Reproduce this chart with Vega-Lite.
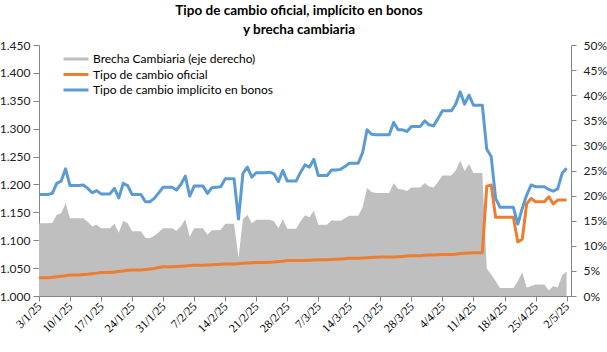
{
  "$schema": "https://vega.github.io/schema/vega-lite/v6.json",
  "width": 532,
  "height": 251,
  "autosize": {"type": "none"},
  "padding": {"left": 39, "top": 45, "right": 36, "bottom": 56},
  "background": "white",
  "title": {
    "text": ["Tipo de cambio oficial, implícito en bonos", "y brecha cambiaria"],
    "font": "Lato", "fontSize": 13.5, "fontWeight": "bold", "color": "#000000",
    "anchor": "middle", "frame": "group", "dx": -6, "offset": 3, "lineHeight": 19
  },
  "data": {"values": [
    {"d":"2025-01-03","o":1032.5,"b":1182,"g":14.5},
    {"d":"2025-01-04","o":1032.5,"b":1182,"g":14.5},
    {"d":"2025-01-05","o":1032.5,"b":1182,"g":14.5},
    {"d":"2025-01-06","o":1033.5,"b":1184,"g":14.6},
    {"d":"2025-01-07","o":1034.5,"b":1202,"g":16.2},
    {"d":"2025-01-08","o":1035.5,"b":1206,"g":16.5},
    {"d":"2025-01-09","o":1036.5,"b":1228,"g":18.5},
    {"d":"2025-01-10","o":1037.5,"b":1198,"g":15.5},
    {"d":"2025-01-11","o":1037.5,"b":1198,"g":15.5},
    {"d":"2025-01-12","o":1037.5,"b":1198,"g":15.5},
    {"d":"2025-01-13","o":1038.5,"b":1199,"g":15.5},
    {"d":"2025-01-14","o":1039,"b":1193,"g":14.8},
    {"d":"2025-01-15","o":1040,"b":1185,"g":13.9},
    {"d":"2025-01-16","o":1041,"b":1189,"g":14.2},
    {"d":"2025-01-17","o":1042,"b":1183,"g":13.5},
    {"d":"2025-01-18","o":1042,"b":1183,"g":13.5},
    {"d":"2025-01-19","o":1042,"b":1183,"g":13.5},
    {"d":"2025-01-20","o":1043,"b":1193,"g":14.4},
    {"d":"2025-01-21","o":1044,"b":1176,"g":12.6},
    {"d":"2025-01-22","o":1045,"b":1202,"g":15.0},
    {"d":"2025-01-23","o":1046,"b":1198,"g":14.5},
    {"d":"2025-01-24","o":1046.5,"b":1182,"g":12.9},
    {"d":"2025-01-25","o":1046.5,"b":1182,"g":12.9},
    {"d":"2025-01-26","o":1046.5,"b":1182,"g":12.9},
    {"d":"2025-01-27","o":1047.5,"b":1169,"g":11.6},
    {"d":"2025-01-28","o":1048.5,"b":1169,"g":11.5},
    {"d":"2025-01-29","o":1049.5,"b":1175,"g":12.0},
    {"d":"2025-01-30","o":1051,"b":1185,"g":12.7},
    {"d":"2025-01-31","o":1052.5,"b":1195,"g":13.5},
    {"d":"2025-02-01","o":1052.5,"b":1195,"g":13.5},
    {"d":"2025-02-02","o":1052.5,"b":1195,"g":13.5},
    {"d":"2025-02-03","o":1053,"b":1190,"g":13.0},
    {"d":"2025-02-04","o":1053.5,"b":1200,"g":13.9},
    {"d":"2025-02-05","o":1054,"b":1215,"g":15.3},
    {"d":"2025-02-06","o":1054.5,"b":1179,"g":11.8},
    {"d":"2025-02-07","o":1055,"b":1197,"g":13.5},
    {"d":"2025-02-08","o":1055,"b":1197,"g":13.5},
    {"d":"2025-02-09","o":1055,"b":1197,"g":13.5},
    {"d":"2025-02-10","o":1055.5,"b":1184,"g":12.2},
    {"d":"2025-02-11","o":1056,"b":1194,"g":13.1},
    {"d":"2025-02-12","o":1056.5,"b":1195,"g":13.1},
    {"d":"2025-02-13","o":1057,"b":1196,"g":13.2},
    {"d":"2025-02-14","o":1057.5,"b":1210,"g":14.4},
    {"d":"2025-02-15","o":1057.5,"b":1210,"g":14.4},
    {"d":"2025-02-16","o":1057.5,"b":1210,"g":14.4},
    {"d":"2025-02-17","o":1058,"b":1138,"g":7.6},
    {"d":"2025-02-18","o":1058.5,"b":1220,"g":15.3},
    {"d":"2025-02-19","o":1059,"b":1231,"g":16.2},
    {"d":"2025-02-20","o":1059.5,"b":1213,"g":14.5},
    {"d":"2025-02-21","o":1060,"b":1221,"g":15.2},
    {"d":"2025-02-22","o":1060,"b":1221,"g":15.2},
    {"d":"2025-02-23","o":1060,"b":1221,"g":15.2},
    {"d":"2025-02-24","o":1060.5,"b":1222,"g":15.2},
    {"d":"2025-02-25","o":1061,"b":1219,"g":14.9},
    {"d":"2025-02-26","o":1062,"b":1205,"g":13.5},
    {"d":"2025-02-27","o":1062.5,"b":1225,"g":15.3},
    {"d":"2025-02-28","o":1063.5,"b":1206,"g":13.4},
    {"d":"2025-03-01","o":1063.5,"b":1206,"g":13.4},
    {"d":"2025-03-02","o":1063.5,"b":1206,"g":13.4},
    {"d":"2025-03-03","o":1063.5,"b":1222,"g":14.9},
    {"d":"2025-03-04","o":1063.5,"b":1235,"g":16.1},
    {"d":"2025-03-05","o":1064,"b":1231,"g":15.7},
    {"d":"2025-03-06","o":1064.5,"b":1245,"g":17.0},
    {"d":"2025-03-07","o":1065,"b":1216,"g":14.2},
    {"d":"2025-03-08","o":1065,"b":1216,"g":14.2},
    {"d":"2025-03-09","o":1065,"b":1216,"g":14.2},
    {"d":"2025-03-10","o":1065.5,"b":1226,"g":15.1},
    {"d":"2025-03-11","o":1066,"b":1226,"g":15.0},
    {"d":"2025-03-12","o":1066.5,"b":1227,"g":15.0},
    {"d":"2025-03-13","o":1067,"b":1232,"g":15.5},
    {"d":"2025-03-14","o":1067.5,"b":1238,"g":16.0},
    {"d":"2025-03-15","o":1067.5,"b":1238,"g":16.0},
    {"d":"2025-03-16","o":1067.5,"b":1238,"g":16.0},
    {"d":"2025-03-17","o":1068,"b":1257,"g":17.7},
    {"d":"2025-03-18","o":1068.5,"b":1298,"g":21.5},
    {"d":"2025-03-19","o":1069,"b":1290,"g":20.7},
    {"d":"2025-03-20","o":1069.5,"b":1289,"g":20.5},
    {"d":"2025-03-21","o":1070,"b":1289,"g":20.5},
    {"d":"2025-03-22","o":1070,"b":1289,"g":20.5},
    {"d":"2025-03-23","o":1070,"b":1289,"g":20.5},
    {"d":"2025-03-24","o":1070,"b":1311,"g":22.5},
    {"d":"2025-03-25","o":1070.5,"b":1298,"g":21.3},
    {"d":"2025-03-26","o":1071,"b":1298,"g":21.2},
    {"d":"2025-03-27","o":1071.5,"b":1295,"g":20.9},
    {"d":"2025-03-28","o":1072,"b":1304,"g":21.6},
    {"d":"2025-03-29","o":1072,"b":1304,"g":21.6},
    {"d":"2025-03-30","o":1072,"b":1304,"g":21.6},
    {"d":"2025-03-31","o":1073,"b":1314,"g":22.5},
    {"d":"2025-04-01","o":1073.5,"b":1307,"g":21.8},
    {"d":"2025-04-02","o":1073.5,"b":1305,"g":21.6},
    {"d":"2025-04-03","o":1074,"b":1318,"g":22.7},
    {"d":"2025-04-04","o":1074.5,"b":1332,"g":24.0},
    {"d":"2025-04-05","o":1074.5,"b":1332,"g":24.0},
    {"d":"2025-04-06","o":1074.5,"b":1332,"g":24.0},
    {"d":"2025-04-07","o":1075,"b":1344,"g":25.0},
    {"d":"2025-04-08","o":1076,"b":1366,"g":27.0},
    {"d":"2025-04-09","o":1076.5,"b":1344,"g":24.9},
    {"d":"2025-04-10","o":1077,"b":1360,"g":26.3},
    {"d":"2025-04-11","o":1077.5,"b":1342,"g":24.5},
    {"d":"2025-04-12","o":1077.5,"b":1342,"g":24.5},
    {"d":"2025-04-13","o":1077.5,"b":1342,"g":24.5},
    {"d":"2025-04-14","o":1197,"b":1263,"g":5.5},
    {"d":"2025-04-15","o":1199,"b":1250,"g":4.3},
    {"d":"2025-04-16","o":1141,"b":1175,"g":3.0},
    {"d":"2025-04-17","o":1141,"b":1159,"g":1.6},
    {"d":"2025-04-18","o":1141,"b":1159,"g":1.6},
    {"d":"2025-04-19","o":1141,"b":1159,"g":1.6},
    {"d":"2025-04-20","o":1141,"b":1159,"g":1.6},
    {"d":"2025-04-21","o":1097,"b":1129,"g":2.9},
    {"d":"2025-04-22","o":1102,"b":1157,"g":4.8},
    {"d":"2025-04-23","o":1165,"b":1181,"g":1.7},
    {"d":"2025-04-24","o":1175,"b":1199,"g":2.0},
    {"d":"2025-04-25","o":1169,"b":1196,"g":2.3},
    {"d":"2025-04-26","o":1169,"b":1196,"g":2.3},
    {"d":"2025-04-27","o":1169,"b":1196,"g":2.3},
    {"d":"2025-04-28","o":1178,"b":1191,"g":1.1},
    {"d":"2025-04-29","o":1165,"b":1188,"g":2.0},
    {"d":"2025-04-30","o":1172,"b":1192,"g":1.7},
    {"d":"2025-05-01","o":1172,"b":1220,"g":4.1},
    {"d":"2025-05-02","o":1172,"b":1229,"g":4.9}
  ]},
  "encoding": {
    "x": {
      "field": "d", "type": "temporal",
      "scale": {"type": "utc", "domain": [{"year": 2025, "month": 1, "date": 3, "utc": true}, {"year": 2025, "month": 5, "date": 3, "utc": true}]},
      "axis": {
        "values": [
          {"year": 2025, "month": 1, "date": 3, "utc": true},
          {"year": 2025, "month": 1, "date": 10, "utc": true},
          {"year": 2025, "month": 1, "date": 17, "utc": true},
          {"year": 2025, "month": 1, "date": 24, "utc": true},
          {"year": 2025, "month": 1, "date": 31, "utc": true},
          {"year": 2025, "month": 2, "date": 7, "utc": true},
          {"year": 2025, "month": 2, "date": 14, "utc": true},
          {"year": 2025, "month": 2, "date": 21, "utc": true},
          {"year": 2025, "month": 2, "date": 28, "utc": true},
          {"year": 2025, "month": 3, "date": 7, "utc": true},
          {"year": 2025, "month": 3, "date": 14, "utc": true},
          {"year": 2025, "month": 3, "date": 21, "utc": true},
          {"year": 2025, "month": 3, "date": 28, "utc": true},
          {"year": 2025, "month": 4, "date": 4, "utc": true},
          {"year": 2025, "month": 4, "date": 11, "utc": true},
          {"year": 2025, "month": 4, "date": 18, "utc": true},
          {"year": 2025, "month": 4, "date": 25, "utc": true},
          {"year": 2025, "month": 5, "date": 2, "utc": true}
        ],
        "labelExpr": "utcFormat(datum.value, '%-d/%-m/%y')",
        "labelAngle": -45, "labelAlign": "right", "labelBaseline": "middle",
        "labelFont": "Liberation Serif", "labelFontSize": 12, "labelColor": "#000000",
        "labelPadding": 3, "labelOverlap": false, "labelBound": false, "labelFlush": false,
        "tickSize": 5, "grid": false, "title": null
      }
    }
  },
  "layer": [
    {
      "mark": {"type": "area", "interpolate": "linear"},
      "encoding": {
        "y": {
          "field": "g", "type": "quantitative",
          "scale": {"domain": [0, 50], "nice": false},
          "axis": {
            "orient": "right", "values": [0,5,10,15,20,25,30,35,40,45,50],
            "labelExpr": "datum.value + '%'", "title": null, "grid": false,
            "tickSize": 5, "labelPadding": 7, "labelOverlap": false,
            "labelFont": "Lato", "labelFontSize": 12, "labelColor": "#222222"
          }
        },
        "color": {
          "datum": "Brecha Cambiaria (eje derecho)",
          "scale": {
            "domain": ["Brecha Cambiaria (eje derecho)", "Tipo de cambio oficial", "Tipo de cambio implícito en bonos"],
            "range": ["#BFBFBF", "#ED7D31", "#5B9BD5"]
          },
          "legend": {
            "orient": "none", "legendX": 23, "legendY": 8, "title": null,
            "padding": 0, "symbolType": "stroke", "symbolSize": 625, "symbolStrokeWidth": 3,
            "clipHeight": 12, "rowPadding": 3.5, "labelOffset": 3, "labelLimit": 400,
            "labelFont": "Lato", "labelFontSize": 12, "labelColor": "#000000"
          }
        }
      }
    },
    {
      "encoding": {
        "y": {
          "type": "quantitative",
          "scale": {"domain": [1000, 1450], "nice": false},
          "axis": {
            "orient": "left", "values": [1000,1050,1100,1150,1200,1250,1300,1350,1400,1450],
            "labelExpr": "replace(format(datum.value, ',.0f'), ',', '.')",
            "title": null, "grid": false, "tickSize": 6, "labelPadding": 3, "labelOverlap": false,
            "labelFont": "Lato", "labelFontSize": 12, "labelColor": "#222222"
          }
        }
      },
      "layer": [
        {
          "mark": {"type": "line", "strokeWidth": 3, "strokeJoin": "round"},
          "encoding": {
            "y": {
              "field": "o", "type": "quantitative",
              "scale": {"domain": [1000, 1450], "nice": false},
              "axis": {
                "orient": "left", "values": [1000,1050,1100,1150,1200,1250,1300,1350,1400,1450],
                "labelExpr": "replace(format(datum.value, ',.0f'), ',', '.')",
                "title": null, "grid": false, "tickSize": 6, "labelPadding": 3, "labelOverlap": false,
                "labelFont": "Lato", "labelFontSize": 12, "labelColor": "#222222"
              }
            },
            "color": {"datum": "Tipo de cambio oficial"}
          }
        },
        {
          "mark": {"type": "line", "strokeWidth": 3, "strokeJoin": "round"},
          "encoding": {
            "y": {
              "field": "b", "type": "quantitative",
              "scale": {"domain": [1000, 1450], "nice": false},
              "axis": {
                "orient": "left", "values": [1000,1050,1100,1150,1200,1250,1300,1350,1400,1450],
                "labelExpr": "replace(format(datum.value, ',.0f'), ',', '.')",
                "title": null, "grid": false, "tickSize": 6, "labelPadding": 3, "labelOverlap": false,
                "labelFont": "Lato", "labelFontSize": 12, "labelColor": "#222222"
              }
            },
            "color": {"datum": "Tipo de cambio implícito en bonos"}
          }
        }
      ]
    }
  ],
  "resolve": {"scale": {"y": "independent"}},
  "config": {
    "view": {"stroke": null},
    "axis": {"domainColor": "#868686", "tickColor": "#868686", "domainWidth": 1, "tickWidth": 1}
  }
}
